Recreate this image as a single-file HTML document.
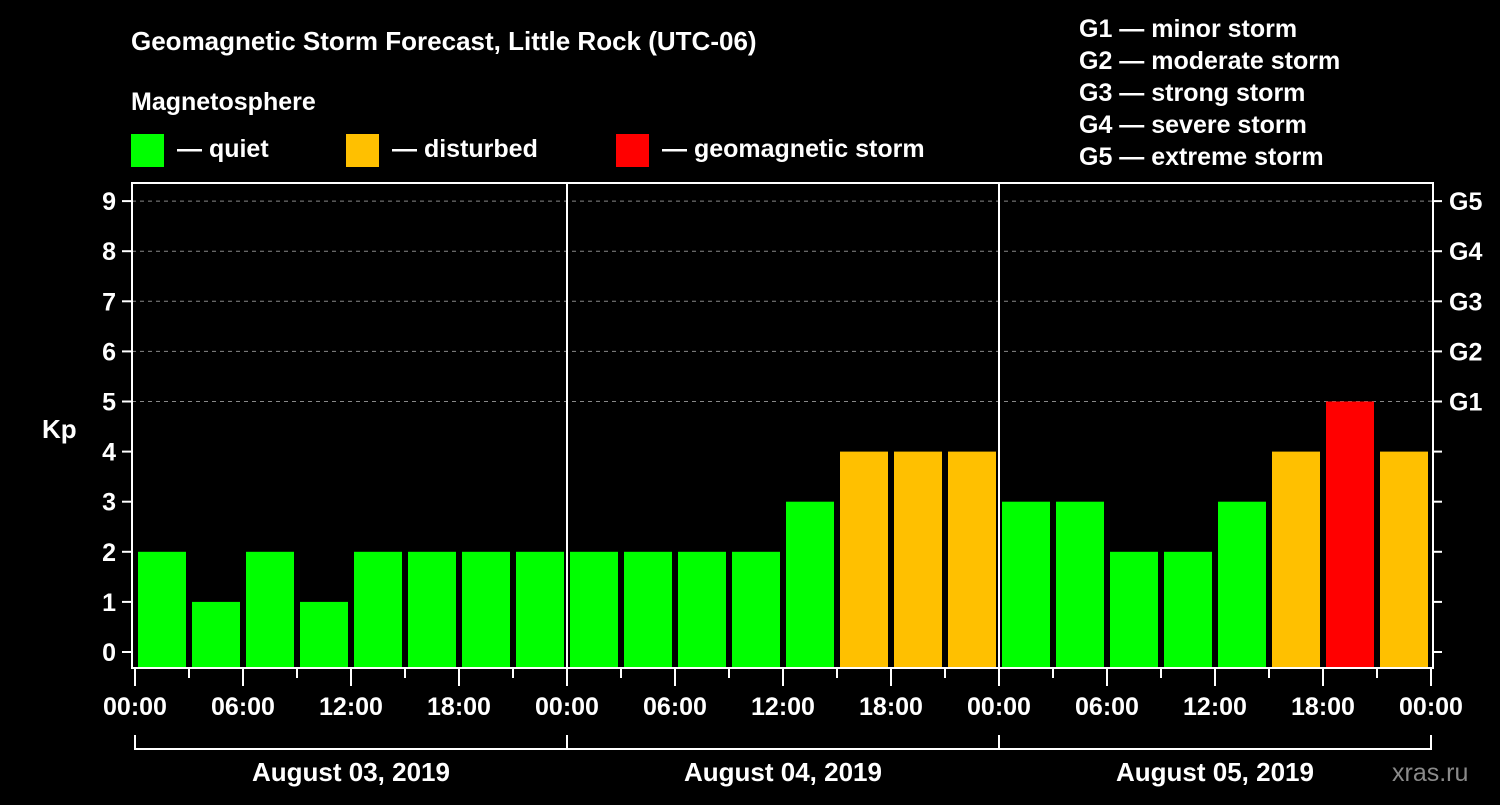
<!DOCTYPE html>
<html><head><meta charset="utf-8"><style>
body{margin:0;background:#000;width:1500px;height:800px;overflow:hidden}
svg text{font-family:"Liberation Sans",Arial,sans-serif;font-weight:bold;fill:#fff}
</style></head><body>
<svg id="c" width="1500" height="800" xmlns="http://www.w3.org/2000/svg">
<text x="131" y="50" font-size="26">Geomagnetic Storm Forecast, Little Rock (UTC-06)</text>
<text x="131" y="110" font-size="25">Magnetosphere</text>
<rect x="131" y="134" width="33" height="33" fill="#00ff00"/>
<text x="177" y="157" font-size="25">— quiet</text>
<rect x="346" y="134" width="33" height="33" fill="#ffc000"/>
<text x="392" y="157" font-size="25">— disturbed</text>
<rect x="616" y="134" width="33" height="33" fill="#ff0000"/>
<text x="662" y="157" font-size="25">— geomagnetic storm</text>
<g font-size="25">
<text x="1079" y="37">G1 — minor storm</text>
<text x="1079" y="69">G2 — moderate storm</text>
<text x="1079" y="101">G3 — strong storm</text>
<text x="1079" y="133">G4 — severe storm</text>
<text x="1079" y="165">G5 — extreme storm</text>
</g>
<text x="42" y="438" font-size="26">Kp</text>
<text x="1392" y="781" font-size="25" fill="#888" style="fill:#8a8a8a;font-weight:normal">xras.ru</text>
<g id="plot"></g>
</svg>
<script>
const values=[2,1,2,1,2,2,2,2, 2,2,2,2,3,4,4,4, 3,3,2,2,3,4,5,4];
const days=["August 03, 2019","August 04, 2019","August 05, 2019"];
const hourLabels=["00:00","06:00","12:00","18:00"];
const gLabels=["G1","G2","G3","G4","G5"];
const X0=135,SLOT=54,TOP=183,BOT=668;
const y=v=>652-v*50.1;
const x=i=>X0+i*SLOT;
const g=document.getElementById('plot');
const NS="http://www.w3.org/2000/svg";
function mk(t,a,txt){const e=document.createElementNS(NS,t);for(const k in a)e.setAttribute(k,a[k]);if(txt!==undefined)e.textContent=txt;g.appendChild(e);return e;}
// grid
for(let v=5;v<=9;v++){const e=mk('line',{x1:132,x2:1433,y1:y(v),y2:y(v),stroke:'#888','stroke-dasharray':'4,4','stroke-width':1});
}
// bars
values.forEach((v,i)=>{const c=v>=5?'#ff0000':v>=4?'#ffc000':'#00ff00';
const e=mk('rect',{x:x(i)+3,y:y(v),width:48,height:BOT-y(v),fill:c});
});
// frame
const f=mk('rect',{x:132,y:TOP,width:1301,height:BOT-TOP,fill:'none',stroke:'#fff','stroke-width':2});

// day dividers
for(let d=1;d<days.length;d++){const e=mk('line',{x1:x(d*8),x2:x(d*8),y1:TOP,y2:BOT,stroke:'#fff','stroke-width':2});
}
// y ticks
for(let v=0;v<=9;v++){mk('line',{x1:122,x2:132,y1:y(v),y2:y(v),stroke:'#fff','stroke-width':2});
mk('line',{x1:1433,x2:1442,y1:y(v),y2:y(v),stroke:'#fff','stroke-width':2});
const t=mk('text',{x:116,y:y(v)+9,'font-size':25,'text-anchor':'end'},String(v));
}
gLabels.forEach((l,k)=>{const t=mk('text',{x:1449,y:y(k+5)+9,'font-size':25},l);
});
// x ticks
for(let i=0;i<=24;i++){const major=i%2==0;
mk('line',{x1:x(i),x2:x(i),y1:BOT,y2:major?686:678,stroke:'#fff','stroke-width':2});
if(major){const t=mk('text',{x:x(i),y:715,'font-size':25,'text-anchor':'middle'},hourLabels[(i/2)%4]);
}}
// day bracket
mk('line',{x1:x(0),x2:x(24),y1:749,y2:749,stroke:'#fff','stroke-width':2});
for(let d=0;d<=days.length;d++)mk('line',{x1:x(d*8),x2:x(d*8),y1:735,y2:750,stroke:'#fff','stroke-width':2});
days.forEach((dl,d)=>{const t=mk('text',{x:x(d*8+4),y:781,'font-size':26,'text-anchor':'middle'},dl);
});
</script>
</body></html>
